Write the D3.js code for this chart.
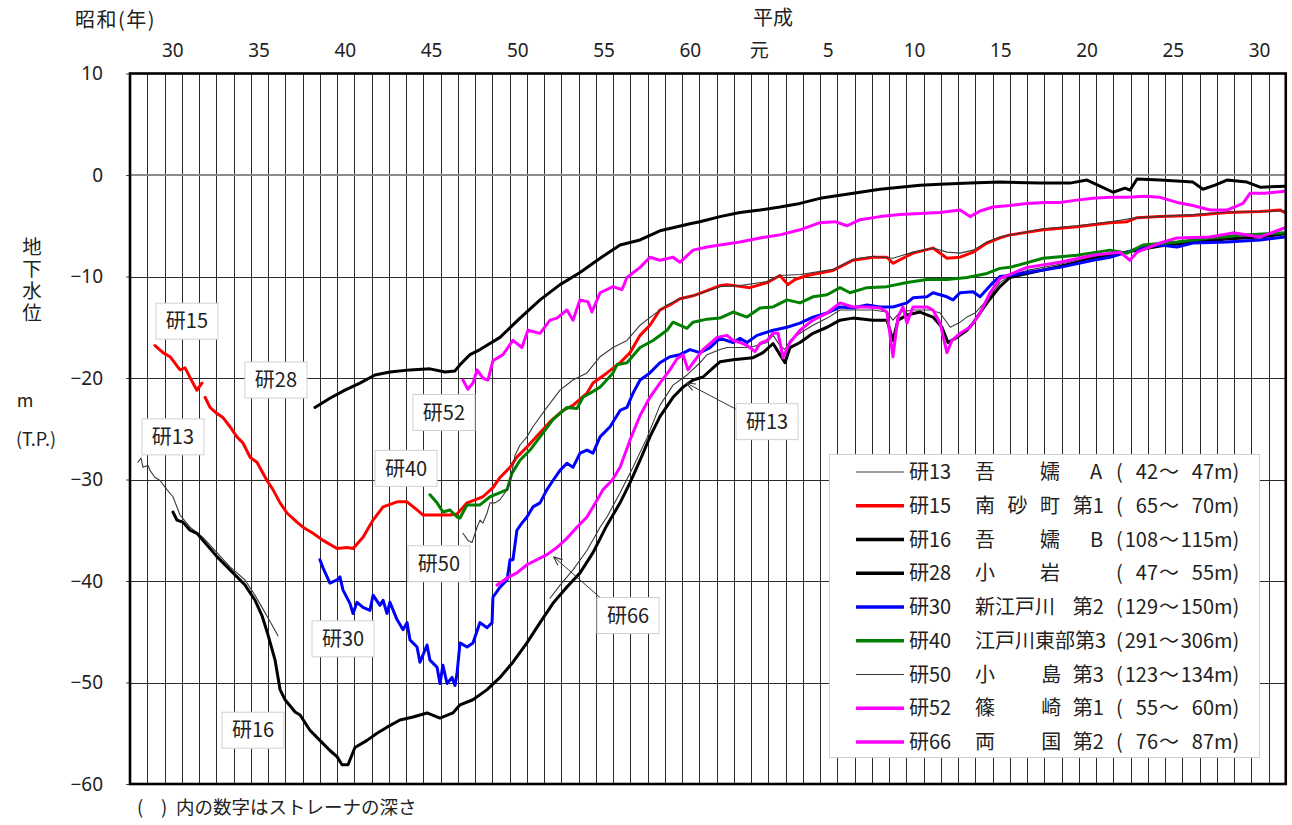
<!DOCTYPE html>
<html><head><meta charset="utf-8">
<script src="https://cdn.jsdelivr.net/npm/d3@7"></script>
<style>
html,body{margin:0;padding:0;background:#fff;}
svg text{font-family:'Noto Sans CJK JP','Noto Sans',sans-serif;fill:#222;}
</style></head><body>
<svg id="chart" width="1292" height="825"></svg>
<script>
// ---------- DATA (year, groundwater level m T.P.) ; null = gap ----------
const ken13 = [[1953.46,-28.3],[1953.64,-27.9],[1953.75,-28.8],[1954.04,-28.6],[1954.16,-29.1],[1954.45,-29.8],[1954.74,-30.1],[1955.14,-31.0],[1955.49,-31.7],[1955.9,-33.5],[1956.48,-34.7],[1957.23,-35.7],[1958.04,-37.2],[1958.8,-38.6],[1959.67,-39.9],[1960.25,-41.4],[1960.65,-42.6],[1961.12,-44.0],[1961.58,-45.4],null,
[1977.35,-41.7],[1977.93,-40.4],[1978.68,-38.9],[1979.49,-37.0],[1980.25,-34.7],[1980.65,-33.7],[1981.41,-31.3],[1982.16,-28.8],[1982.97,-25.9],[1983.72,-22.7],[1984.48,-20.7],[1985.29,-19.7],[1986.04,-18.5],[1986.45,-17.7],[1987.2,-17.2],[1987.61,-17.0],[1988.94,-17.0],[1989.93,-16.5],[1990.28,-15.8],[1990.68,-16.8],[1990.97,-17.2],[1991.26,-16.3],[1991.84,-15.6],[1992.59,-14.8],[1993.41,-14.1],[1994.16,-13.3],[1994.91,-13.3],[1996.07,-13.3],[1996.88,-13.5],[1997.23,-14.3],[1997.64,-13.5],[1998.39,-13.3],[1999.38,-13.3],[1999.96,-13.6],[2000.55,-15.0],[2001.12,-14.5],[2001.52,-14.0],[2001.99,-13.6],[2002.68,-12.3],[2003.43,-10.6],[2004.01,-9.9],[2005.0,-9.4],[2006.91,-8.8],[2008.83,-8.0],[2010.8,-7.5],[2012.71,-6.9],[2014.62,-6.5],[2016.59,-6.2],[2018.51,-6.0],[2019.96,-5.7]];

const ken15 = [[1954.45,-16.8],[1954.91,-17.5],[1955.32,-17.9],[1955.9,-19.2],[1956.19,-19.0],[1956.65,-20.5],[1956.88,-21.2],[1957.17,-20.5],null,
[1957.35,-21.9],[1957.64,-22.9],[1958.04,-23.5],[1958.39,-23.9],[1958.8,-24.8],[1959.2,-25.8],[1959.55,-26.4],[1959.96,-27.8],[1960.36,-28.3],[1960.94,-30.1],[1961.29,-31.0],[1961.7,-32.3],[1962.1,-33.3],[1962.68,-34.2],[1963.03,-34.7],[1963.61,-35.3],[1964.19,-36.0],[1965.0,-36.8],[1965.58,-36.7],[1965.93,-36.8],[1966.51,-35.7],[1967.09,-34.0],[1967.67,-32.7],[1968.48,-32.2],[1969.06,-32.2],[1969.64,-33.0],[1969.99,-33.5],[1970.8,-33.5],[1971.55,-33.5],[1971.96,-33.4],[1972.54,-32.3],[1973.0,-32.0],[1973.46,-31.7],[1974.04,-30.8],[1974.45,-29.8],[1975.03,-28.8],[1975.43,-27.8],[1976.01,-26.8],[1976.77,-25.4],[1977.35,-24.3],[1978.1,-23.2],[1978.68,-22.7],[1979.49,-21.5],[1979.84,-20.5],[1980.65,-19.5],[1981.41,-18.5],[1981.99,-17.5],[1982.57,-15.8],[1983.14,-14.8],[1983.72,-13.3],[1984.3,-12.8],[1984.88,-12.2],[1985.64,-11.9],[1986.45,-11.4],[1987.2,-10.9],[1987.61,-10.8],[1988.94,-11.1],[1989.93,-10.6],[1990.68,-9.9],[1991.14,-10.8],[1991.55,-10.3],[1992.25,-9.9],[1993.75,-9.4],[1994.91,-8.4],[1996.07,-8.1],[1996.88,-8.1],[1997.23,-8.7],[1997.81,-8.2],[1998.39,-7.7],[1999.55,-7.2],[2000.36,-8.2],[2001.12,-8.1],[2001.87,-7.6],[2002.68,-6.7],[2003.43,-6.2],[2004.01,-5.9],[2005.93,-5.4],[2007.9,-5.1],[2009.81,-4.7],[2010.8,-4.6],[2011.38,-4.2],[2012.71,-4.1],[2014.62,-4.0],[2016.59,-3.7],[2018.51,-3.6],[2019.67,-3.45],[2019.96,-3.7]];

const ken16 = [[1955.49,-33.2],[1955.72,-34.0],[1956.07,-34.2],[1956.48,-35.0],[1956.88,-35.3],[1957.23,-36.0],[1957.64,-36.8],[1958.04,-37.6],[1958.8,-38.9],[1959.67,-40.4],[1960.25,-41.9],[1960.65,-43.4],[1961.0,-45.3],[1961.41,-47.8],[1961.7,-50.7],[1961.99,-51.7],[1962.57,-52.9],[1962.86,-53.2],[1963.43,-54.7],[1964.01,-55.7],[1964.59,-56.7],[1965.0,-57.3],[1965.29,-58.1],[1965.64,-58.1],[1966.04,-56.4],[1966.74,-55.7],[1967.32,-55.0],[1967.9,-54.4],[1968.65,-53.7],[1969.41,-53.4],[1970.22,-53.0],[1970.97,-53.5],[1971.72,-53.0],[1972.13,-52.2],[1972.88,-51.7],[1973.7,-50.7],[1974.45,-49.5],[1975.2,-48.0],[1976.01,-46.1],[1976.77,-44.1],[1977.52,-42.2],[1978.33,-40.6],[1979.09,-39.2],[1979.84,-37.2],[1980.65,-34.5],[1981.41,-32.3],[1981.99,-30.3],[1982.57,-28.1],[1983.14,-25.8],[1983.72,-23.8],[1984.48,-21.9],[1985.06,-20.9],[1985.64,-20.2],[1986.22,-19.9],[1986.8,-19.0],[1987.2,-18.4],[1987.96,-18.2],[1989.12,-18.0],[1989.7,-17.5],[1990.28,-16.6],[1990.68,-17.7],[1990.97,-18.5],[1991.26,-17.0],[1991.84,-16.5],[1992.59,-15.6],[1993.41,-15.0],[1994.16,-14.3],[1994.91,-14.1],[1996.07,-14.3],[1996.88,-14.3],[1997.23,-16.3],[1997.52,-14.3],[1998.04,-13.8],[1998.8,-13.5],[1999.55,-14.0],[2000.07,-15.0],[2000.42,-16.5],[2000.94,-16.0],[2001.52,-15.3],[2001.87,-14.6],[2002.68,-12.6],[2003.43,-11.0],[2004.01,-10.1],[2005.0,-9.7],[2006.91,-9.0],[2008.83,-8.2],[2010.8,-7.6],[2012.71,-7.0],[2014.62,-6.6],[2016.59,-6.3],[2018.51,-6.1],[2019.96,-5.8]];

const ken28 = [[1963.72,-22.9],[1964.59,-22.0],[1965.46,-21.2],[1966.33,-20.5],[1967.2,-19.7],[1968.07,-19.4],[1969.23,-19.2],[1970.39,-19.1],[1971.26,-19.4],[1971.84,-19.3],[1972.13,-18.7],[1972.71,-17.7],[1973.29,-17.2],[1974.45,-16.0],[1975.61,-14.1],[1976.77,-12.3],[1977.93,-10.8],[1979.09,-9.6],[1980.25,-8.2],[1981.41,-6.9],[1982.57,-6.4],[1983.72,-5.5],[1984.48,-5.2],[1985.46,-4.8],[1986.04,-4.6],[1987.2,-4.1],[1988.36,-3.7],[1989.52,-3.45],[1990.68,-3.15],[1991.84,-2.8],[1993.0,-2.3],[1994.16,-2.0],[1995.32,-1.7],[1996.48,-1.4],[1997.64,-1.2],[1998.8,-1.0],[1999.96,-0.9],[2001.7,-0.8],[2003.43,-0.7],[2005.75,-0.8],[2007.49,-0.8],[2008.48,-0.5],[2009.23,-1.1],[2009.99,-1.7],[2010.68,-1.3],[2010.97,-1.5],[2011.38,-0.4],[2012.71,-0.5],[2014.62,-0.7],[2015.2,-1.4],[2015.9,-1.0],[2016.59,-0.5],[2017.75,-0.7],[2018.51,-1.2],[2019.96,-1.1]];

const ken30 = [[1964.01,-37.9],[1964.19,-38.7],[1964.59,-40.2],[1965.0,-39.9],[1965.17,-39.6],[1965.35,-40.9],[1965.75,-42.2],[1965.93,-43.2],[1966.16,-42.1],[1966.51,-42.6],[1966.91,-42.9],[1967.09,-41.4],[1967.49,-42.4],[1967.67,-41.9],[1967.9,-43.2],[1968.07,-42.1],[1968.48,-43.8],[1968.83,-44.8],[1969.06,-44.1],[1969.23,-45.8],[1969.64,-46.5],[1969.81,-48.0],[1970.22,-46.3],[1970.39,-47.8],[1970.8,-48.5],[1970.97,-50.1],[1971.14,-48.3],[1971.38,-50.1],[1971.67,-49.5],[1971.84,-50.3],[1971.96,-49.1],[1972.13,-46.1],[1972.54,-46.5],[1972.88,-46.1],[1973.29,-44.1],[1973.7,-44.6],[1973.99,-44.1],[1974.04,-41.6],[1974.45,-40.6],[1974.86,-39.9],[1975.03,-37.9],[1975.2,-37.9],[1975.43,-35.0],[1975.72,-34.3],[1976.01,-33.7],[1976.36,-32.7],[1976.77,-32.3],[1977.17,-31.0],[1977.52,-30.1],[1977.93,-29.1],[1978.33,-28.4],[1978.68,-28.8],[1979.09,-27.4],[1979.49,-27.1],[1979.84,-27.4],[1980.25,-25.8],[1980.83,-24.8],[1981.41,-23.2],[1981.81,-22.9],[1982.16,-21.5],[1982.57,-20.2],[1983.14,-19.5],[1983.72,-18.5],[1984.3,-17.9],[1984.88,-17.7],[1985.46,-17.2],[1986.04,-17.5],[1986.62,-17.0],[1987.2,-16.1],[1987.96,-16.5],[1988.36,-16.1],[1988.77,-16.5],[1989.35,-15.8],[1990.28,-15.3],[1991.09,-15.0],[1991.84,-14.6],[1992.59,-14.0],[1993.41,-13.6],[1994.16,-13.0],[1994.91,-13.1],[1995.72,-12.8],[1996.48,-13.0],[1997.23,-13.0],[1998.04,-12.6],[1998.39,-12.1],[1999.2,-12.0],[1999.55,-11.6],[2000.36,-12.0],[2000.71,-12.3],[2001.12,-11.6],[2001.87,-11.5],[2002.28,-12.0],[2003.03,-10.6],[2003.43,-10.0],[2004.01,-9.9],[2005.0,-9.6],[2006.91,-9.1],[2008.83,-8.4],[2009.81,-8.1],[2010.8,-7.6],[2011.72,-7.1],[2012.71,-6.9],[2013.7,-7.1],[2014.62,-6.7],[2016.59,-6.6],[2018.51,-6.4],[2019.96,-6.1]];

const ken40 = [[1970.39,-31.5],[1970.8,-32.3],[1971.14,-33.2],[1971.55,-33.0],[1971.96,-33.7],[1972.13,-33.8],[1972.54,-32.5],[1973.29,-32.5],[1973.87,-31.7],[1974.45,-31.3],[1974.86,-31.0],[1975.14,-29.4],[1975.61,-28.1],[1976.19,-27.1],[1976.77,-25.8],[1977.52,-24.1],[1978.33,-22.9],[1978.91,-23.0],[1979.26,-21.9],[1979.67,-21.5],[1980.25,-20.9],[1981.0,-19.5],[1981.23,-18.7],[1981.81,-18.5],[1982.57,-17.0],[1983.32,-16.3],[1984.13,-15.3],[1984.48,-14.5],[1985.29,-15.1],[1985.64,-14.5],[1986.45,-14.2],[1987.2,-14.1],[1987.96,-13.5],[1988.77,-14.0],[1989.52,-13.1],[1990.28,-13.0],[1991.09,-12.3],[1991.84,-12.6],[1992.59,-12.0],[1993.41,-11.8],[1994.16,-11.1],[1994.74,-11.6],[1995.72,-11.1],[1996.88,-11.0],[1998.04,-10.6],[1999.2,-10.3],[2000.36,-10.3],[2001.52,-10.1],[2002.68,-9.7],[2003.43,-9.2],[2004.01,-9.1],[2005.93,-8.2],[2007.9,-7.9],[2009.81,-7.4],[2010.8,-7.7],[2011.72,-6.9],[2013.7,-6.6],[2015.61,-6.2],[2017.52,-5.9],[2019.96,-5.7]];

const ken50 = [[1972.3,-35.3],[1972.59,-36.0],[1972.83,-36.2],[1973.12,-34.7],[1973.29,-34.0],[1973.46,-34.3],[1973.7,-33.3],[1973.87,-32.3],[1974.16,-32.3],[1974.45,-32.0],[1974.86,-31.0],[1975.03,-30.3],[1975.32,-27.6],[1975.61,-26.6],[1976.01,-25.8],[1976.36,-24.8],[1977.17,-22.9],[1977.93,-21.2],[1978.68,-20.2],[1979.49,-19.5],[1980.25,-17.9],[1981.0,-17.0],[1981.81,-16.3],[1982.57,-14.8],[1983.32,-13.8],[1984.13,-12.8],[1984.88,-12.2],[1986.04,-11.7],[1987.2,-11.0],[1988.36,-10.9],[1989.93,-10.5],[1990.68,-9.9],[1991.84,-9.8],[1993.75,-9.3],[1994.91,-8.3],[1996.07,-8.0],[1997.23,-8.2],[1998.39,-7.6],[1999.55,-7.2],[2000.36,-7.6],[2001.12,-7.7],[2001.87,-7.4],[2002.68,-6.6],[2003.43,-6.1],[2005.93,-5.3],[2007.9,-5.0],[2009.81,-4.6],[2011.38,-4.2],[2014.62,-3.9],[2016.59,-3.65],[2019.96,-3.55]];

const ken52 = [[1972.3,-20.2],[1972.59,-21.1],[1972.88,-20.5],[1973.12,-19.2],[1973.46,-20.0],[1973.75,-20.2],[1974.04,-18.3],[1974.62,-17.7],[1975.2,-16.3],[1975.72,-17.0],[1976.07,-15.3],[1976.77,-15.6],[1977.35,-14.3],[1977.75,-14.1],[1978.33,-13.3],[1978.68,-14.3],[1979.09,-12.3],[1979.55,-12.5],[1979.78,-13.5],[1980.25,-11.6],[1981.0,-11.0],[1981.52,-11.3],[1981.81,-10.1],[1982.57,-9.1],[1983.14,-8.1],[1983.72,-8.4],[1984.48,-8.1],[1984.88,-8.6],[1985.64,-7.4],[1986.45,-7.1],[1987.2,-6.9],[1988.36,-6.6],[1989.52,-6.2],[1990.68,-5.9],[1991.84,-5.4],[1993.0,-4.7],[1993.87,-4.6],[1994.57,-5.0],[1995.32,-4.4],[1996.48,-4.1],[1997.64,-3.9],[1998.8,-3.8],[1999.96,-3.7],[2001.12,-3.45],[2001.7,-4.1],[2002.28,-3.55],[2003.03,-3.15],[2004.01,-3.0],[2005.0,-2.8],[2006.04,-2.7],[2006.91,-2.7],[2007.78,-2.5],[2008.83,-2.3],[2009.81,-2.2],[2010.8,-2.2],[2011.84,-2.1],[2012.71,-2.2],[2013.7,-2.7],[2014.62,-3.0],[2015.61,-3.45],[2016.59,-3.45],[2017.52,-2.8],[2017.93,-1.8],[2018.8,-1.8],[2019.96,-1.6]];

const ken66 = [[1974.28,-40.4],[1974.86,-39.7],[1975.43,-39.2],[1976.01,-38.4],[1976.59,-37.9],[1977.17,-37.4],[1977.75,-36.7],[1978.33,-35.8],[1978.91,-34.7],[1979.49,-33.7],[1979.84,-32.7],[1980.42,-31.0],[1980.94,-30.1],[1981.41,-28.8],[1981.99,-26.1],[1982.57,-23.7],[1983.14,-21.9],[1983.72,-20.5],[1984.3,-19.2],[1984.71,-18.1],[1985.06,-17.7],[1985.35,-19.2],[1985.64,-18.5],[1986.22,-17.2],[1987.03,-16.0],[1987.61,-15.8],[1987.96,-16.3],[1988.36,-16.5],[1988.77,-16.8],[1989.23,-17.4],[1989.52,-16.6],[1989.93,-16.3],[1990.28,-15.6],[1990.57,-15.6],[1990.86,-18.0],[1991.26,-16.5],[1991.84,-15.3],[1992.59,-14.3],[1993.41,-13.6],[1994.16,-12.6],[1994.91,-13.0],[1995.72,-13.0],[1996.48,-13.1],[1996.88,-13.5],[1997.23,-17.9],[1997.52,-14.0],[1997.81,-13.0],[1998.04,-14.6],[1998.39,-13.0],[1999.2,-13.0],[1999.55,-13.3],[1999.96,-14.6],[2000.36,-17.5],[2000.65,-16.3],[2001.12,-15.6],[2001.7,-15.0],[2002.28,-13.6],[2002.86,-11.6],[2003.43,-10.2],[2005.0,-9.1],[2006.91,-8.6],[2008.83,-7.9],[2010.39,-7.6],[2010.97,-8.4],[2011.38,-7.6],[2012.71,-6.7],[2013.7,-6.2],[2015.61,-6.1],[2016.94,-5.7],[2018.51,-6.1],[2019.96,-5.2]];

// axis tick labels
const showaYears = [1955,1960,1965,1970,1975,1980,1985];
const showaLabels = ["30","35","40","45","50","55","60"];
const heiseiYears = [1989,1993,1998,2003,2008,2013,2018];
const heiseiLabels = ["元","5","10","15","20","25","30"];
const levelTicks = [10,0,-10,-20,-30,-40,-50,-60];

// legend content
const legendIds = ["研13","研15","研16","研28","研30","研40","研50","研52","研66"];
const legendPlaces = [
  [["吾",0],["嬬",6],["A",10.6]],
  [["南",0],["砂",3],["町",6],["第1",9]],
  [["吾",0],["嬬",6],["B",10.6]],
  [["小",0],["岩",6]],
  [["新江戸川",0],["第2",9]],
  [["江戸川東部第3",0]],
  [["小",0],["島",6.1],["第3",9]],
  [["篠",0],["崎",6.1],["第1",9]],
  [["両",0],["国",6.1],["第2",9]]
];
const depthFrom = ["42","65","108","47","129","291","123","55","76"];
const depthTo   = ["47","70","115","55","150","306","134","60","87"];

// in-chart labels (year, level)
const annLabels = [
  {t:"研15", year:1956.30, level:-14.4},
  {t:"研28", year:1961.46, level:-20.2},
  {t:"研13", year:1955.49, level:-25.8},
  {t:"研52", year:1971.20, level:-23.4},
  {t:"研40", year:1969.00, level:-28.9},
  {t:"研50", year:1970.91, level:-38.3},
  {t:"研30", year:1965.35, level:-45.7},
  {t:"研16", year:1960.13, level:-54.7},
  {t:"研66", year:1981.87, level:-43.4},
  {t:"研13", year:1989.93, level:-24.3}
];
const annArrows = [
  {from:[1988.50,-23.4], to:[1985.25,-20.5]},
  {from:[1980.70,-42.3], to:[1977.55,-37.6]}
];

// ---------- STYLE ----------
const seriesStyle = [
  {data:ken13, color:"#3a3a3a", w:1.1},
  {data:ken15, color:"#ff0000", w:3},
  {data:ken16, color:"#000000", w:3},
  {data:ken28, color:"#000000", w:3},
  {data:ken30, color:"#0000ff", w:3},
  {data:ken40, color:"#008000", w:3},
  {data:ken50, color:"#3a3a3a", w:1.1},
  {data:ken52, color:"#ff00ff", w:3},
  {data:ken66, color:"#ff00ff", w:3}
];

const svg = d3.select("#chart");
const L=130, R=1285.75, T=73.5, B=784;
const x = d3.scaleLinear().domain([1953,2020]).range([L,R]);
const y = d3.scaleLinear().domain([-60,10]).range([B,T]);
const crisp = v => Math.round(v)+0.5;

// gridlines
const g = svg.append("g");
g.selectAll("line.v").data(d3.range(1954,2020)).join("line")
  .attr("x1",d=>crisp(x(d))).attr("x2",d=>crisp(x(d))).attr("y1",T).attr("y2",B)
  .attr("stroke","#2a2a2a").attr("stroke-width",1);
g.selectAll("line.h").data([-10,-20,-30,-40,-50]).join("line")
  .attr("x1",L).attr("x2",R).attr("y1",d=>crisp(y(d))).attr("y2",d=>crisp(y(d)))
  .attr("stroke","#2a2a2a").attr("stroke-width",1.2);
g.append("line").attr("x1",L).attr("x2",R).attr("y1",y(0)).attr("y2",y(0))
  .attr("stroke","#8c8c8c").attr("stroke-width",2);

// y axis
const yAxis = d3.axisLeft(y).tickValues(levelTicks).tickSize(4).tickPadding(23)
  .tickFormat(d=> d<0 ? "−"+(-d) : String(d));
const ya = svg.append("g").attr("transform",`translate(${L},0)`).call(yAxis);
ya.select(".domain").remove();
ya.selectAll("line").attr("stroke","#444");
ya.selectAll("text").attr("font-size",19).attr("fill","#222")
  .style("font-family","'Noto Sans','Noto Sans CJK JP',sans-serif");

// top axes
function topAxis(years, labels){
  const ax = d3.axisTop(x).tickValues(years.map(v=>v+0.45)).tickSize(0).tickPadding(0)
    .tickFormat((d,i)=>labels[i]);
  const a = svg.append("g").attr("transform","translate(0,57)").call(ax);
  a.select(".domain").remove();
  a.selectAll("text").attr("font-size",19).attr("fill","#222")
   .style("font-family","'Noto Sans','Noto Sans CJK JP',sans-serif");
}
topAxis(showaYears, showaLabels);
topAxis(heiseiYears, heiseiLabels);

// clip
svg.append("clipPath").attr("id","pc").append("rect")
  .attr("x",L).attr("y",T).attr("width",R-L).attr("height",B-T);

// series
const line = d3.line().defined(d=>d!==null).x(d=>x(d[0])).y(d=>y(d[1]));
const sg = svg.append("g").attr("clip-path","url(#pc)");
seriesStyle.forEach(s=>{
  sg.append("path").datum(s.data).attr("d",line)
    .attr("fill","none").attr("stroke",s.color).attr("stroke-width",s.w)
    .attr("stroke-linejoin","round").attr("stroke-linecap","round");
});

// plot border
svg.append("rect").attr("x",L).attr("y",T).attr("width",R-L).attr("height",B-T)
  .attr("fill","none").attr("stroke","#000").attr("stroke-width",2.6);

// arrows
const defs = svg.append("defs");
defs.append("marker").attr("id","ah").attr("viewBox","0 0 10 10").attr("refX",10).attr("refY",5)
  .attr("markerWidth",9).attr("markerHeight",9).attr("orient","auto").attr("markerUnits","userSpaceOnUse")
  .append("path").attr("d","M0,1 L10,5 L0,9").attr("fill","none").attr("stroke","#333").attr("stroke-width",1.2);
svg.selectAll("line.arr").data(annArrows).join("line")
  .attr("x1",d=>x(d.from[0])).attr("y1",d=>y(d.from[1]))
  .attr("x2",d=>x(d.to[0])).attr("y2",d=>y(d.to[1]))
  .attr("stroke","#333").attr("stroke-width",1).attr("marker-end","url(#ah)");

// annotation labels
const al = svg.selectAll("g.ann").data(annLabels).join("g")
  .attr("transform",d=>`translate(${x(d.year)},${y(d.level)})`);
al.append("rect").attr("x",-31).attr("y",-18).attr("width",62).attr("height",36)
  .attr("fill","#fff").attr("stroke","#d0d0d0").attr("stroke-width",1);
al.append("text").attr("text-anchor","middle").attr("dy","0.36em").attr("font-size",20).text(d=>d.t);

// legend
const lg = svg.append("g");
lg.append("rect").attr("x",829.5).attr("y",454.5).attr("width",430).attr("height",303)
  .attr("fill","#fff").attr("stroke","#d0d0d0");
const rowY = i => 472 + i*33.75;
legendIds.forEach((id,i)=>{
  const s = seriesStyle[i];
  const yy = rowY(i);
  lg.append("line").attr("x1",856).attr("x2",904).attr("y1",yy).attr("y2",yy)
    .attr("stroke",s.color).attr("stroke-width",s.w===3?3.5:1.1);
  const t = lg.append("text").attr("y",yy).attr("dy","0.36em").attr("font-size",20);
  const ts = (txt,xx,anchor)=>t.append("tspan").attr("x",xx).attr("text-anchor",anchor||"start").text(txt);
  ts(id,909);
  legendPlaces[i].forEach(p=>ts(p[0], 975 + p[1]*10.85));
  ts("(",1116);
  ts(depthFrom[i],1158,"end");
  ts("～",1159);
  ts(depthTo[i],1214,"end");
  ts("m)",1214);
});

// axis titles and notes
const T0 = (t,xx,yy,fs,anchor)=>svg.append("text").attr("x",xx).attr("y",yy).attr("dy","0.36em")
  .attr("font-size",fs).attr("text-anchor",anchor||"start").text(t);
T0("昭和(年)",75,20,20).attr("letter-spacing",1.5);
T0("平成",773,18,20,"middle");
svg.append("text").attr("x",32).attr("y",237).attr("font-size",19.5)
  .style("writing-mode","vertical-rl").attr("letter-spacing",2.5).text("地下水位");
T0("m",25,401,18,"middle");
T0("(T.P.)",36,440,18,"middle");
const note = svg.append("text").attr("y",807).attr("dy","0.36em").attr("font-size",18.5);
note.append("tspan").attr("x",137).text("(");
note.append("tspan").attr("x",161).text(")");
note.append("tspan").attr("x",176).text("内の数字はストレーナの深さ");
</script>
</body></html>
